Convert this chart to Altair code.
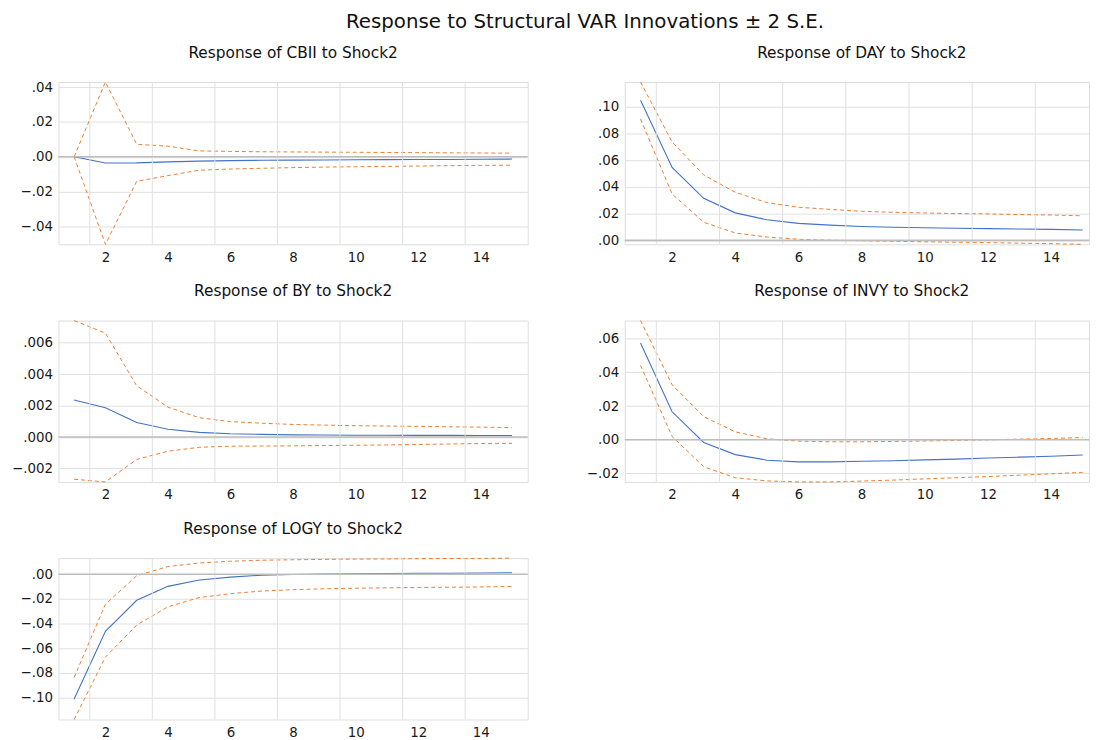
import altair as alt
import pandas as pd

steps = list(range(1, 16))
grid_x = [1.5, 3.5, 5.5, 7.5, 9.5, 11.5, 13.5]
x_labels = [2, 4, 6, 8, 10, 12, 14]

main_title = "Response to Structural VAR Innovations \u00b1 2 S.E."

cbii_resp = [0.0, -0.0036, -0.0035, -0.0029, -0.0025, -0.0022, -0.0020, -0.0019, -0.0018, -0.0017, -0.0016, -0.0015, -0.0015, -0.0014, -0.0013]
cbii_up = [0.0, 0.0430, 0.0072, 0.0061, 0.0034, 0.0031, 0.0029, 0.0028, 0.0027, 0.0026, 0.0025, 0.0024, 0.0023, 0.0022, 0.0021]
cbii_lo = [0.0, -0.0503, -0.0141, -0.0108, -0.0077, -0.0070, -0.0066, -0.0062, -0.0059, -0.0057, -0.0055, -0.0053, -0.0051, -0.0049, -0.0048]

day_resp = [0.1050, 0.0546, 0.0315, 0.0206, 0.0154, 0.0127, 0.0114, 0.0104, 0.0098, 0.0094, 0.0091, 0.0088, 0.0085, 0.0082, 0.0077]
day_up = [0.1187, 0.0737, 0.0490, 0.0360, 0.0283, 0.0248, 0.0232, 0.0218, 0.0210, 0.0205, 0.0201, 0.0198, 0.0193, 0.0190, 0.0184]
day_lo = [0.0910, 0.0347, 0.0136, 0.0055, 0.0025, 0.0008, 0.0001, -0.0003, -0.0007, -0.0011, -0.0014, -0.0017, -0.0021, -0.0025, -0.0030]

by_resp = [0.00236, 0.00186, 0.00092, 0.00050, 0.00030, 0.00021, 0.00017, 0.00014, 0.00013, 0.00012, 0.00012, 0.00011, 0.00011, 0.00010, 0.00010]
by_up = [0.00740, 0.00660, 0.00326, 0.00190, 0.00123, 0.00098, 0.00088, 0.00080, 0.00076, 0.00072, 0.00070, 0.00068, 0.00065, 0.00063, 0.00060]
by_lo = [-0.00268, -0.00285, -0.00142, -0.00090, -0.00065, -0.00058, -0.00057, -0.00056, -0.00054, -0.00052, -0.00050, -0.00047, -0.00044, -0.00041, -0.00040]

invy_resp = [0.0574, 0.0166, -0.0016, -0.0088, -0.0121, -0.0131, -0.0131, -0.0127, -0.0124, -0.0119, -0.0115, -0.0108, -0.0103, -0.0098, -0.0090]
invy_up = [0.0707, 0.0326, 0.0137, 0.0047, 0.0006, -0.0008, -0.0012, -0.0012, -0.0010, -0.0007, -0.0004, 0.0000, 0.0004, 0.0008, 0.0013]
invy_lo = [0.0441, 0.0020, -0.0160, -0.0225, -0.0244, -0.0250, -0.0250, -0.0245, -0.0239, -0.0232, -0.0225, -0.0218, -0.0210, -0.0202, -0.0193]

logy_resp = [-0.1013, -0.0464, -0.0212, -0.0099, -0.0048, -0.0024, -0.0008, -0.0003, 0.0000, 0.0003, 0.0005, 0.0007, 0.0008, 0.0009, 0.0012]
logy_up = [-0.0839, -0.0244, -0.0013, 0.0062, 0.0091, 0.0105, 0.0113, 0.0117, 0.0120, 0.0122, 0.0124, 0.0126, 0.0127, 0.0128, 0.0130]
logy_lo = [-0.1180, -0.0673, -0.0413, -0.0265, -0.0190, -0.0158, -0.0137, -0.0126, -0.0119, -0.0114, -0.0111, -0.0108, -0.0106, -0.0104, -0.0100]

cbii_ticks = [-0.04, -0.02, 0.0, 0.02, 0.04]
day_ticks = [0.0, 0.02, 0.04, 0.06, 0.08, 0.10]
by_ticks = [-0.002, 0.0, 0.002, 0.004, 0.006]
invy_ticks = [-0.02, 0.0, 0.02, 0.04, 0.06]
logy_ticks = [-0.10, -0.08, -0.06, -0.04, -0.02, 0.0]

FONT = "DejaVu Sans"
BLUE = "#4472C4"
ORANGE = "#ED7D31"
GRID = "#E0E0E0"
ZERO = "#BDBDBD"


def panel(var, resp, up, lo, ticks, decimals, width, height, xmax, title_dx=0):
    df = pd.DataFrame({
        "step": steps * 3,
        "value": resp + up + lo,
        "series": ["resp"] * len(steps) + ["upper"] * len(steps) + ["lower"] * len(steps),
    })
    all_vals = resp + up + lo + [0.0]
    yscale = alt.Scale(domain=[min(all_vals), max(all_vals)], nice=False, zero=False)
    xscale = alt.Scale(domain=[0.5, xmax], nice=False, zero=False)
    xaxis = alt.Axis(values=x_labels, grid=False, ticks=False, domain=False,
                     title=None, format="d", labelPadding=6,
                     minExtent=21, maxExtent=21, labelFontSize=13.5,
                     labelFont=FONT, labelColor="#1a1a1a")
    yaxis = alt.Axis(values=ticks, grid=True, gridColor=GRID, gridWidth=1,
                     ticks=False, domain=False, title=None,
                     labelExpr=f"replace(format(datum.value, '.{decimals}f'), '0.', '.')",
                     labelPadding=6, minExtent=50, maxExtent=50,
                     labelFontSize=13.5, labelFont=FONT, labelColor="#1a1a1a")
    xenc = alt.X("step:Q", scale=xscale, axis=xaxis)
    yenc = alt.Y("value:Q", scale=yscale, axis=yaxis)
    bands = alt.Chart(df).transform_filter(alt.datum.series != "resp").mark_line(
        color=ORANGE, strokeWidth=1, strokeDash=[4, 3]).encode(
        x=xenc, y=yenc, detail="series:N")
    line = alt.Chart(df).transform_filter(alt.datum.series == "resp").mark_line(
        color=BLUE, strokeWidth=1.1).encode(x=xenc, y=yenc)
    grid = alt.Chart(pd.DataFrame({"g": grid_x})).mark_rule(color=GRID, strokeWidth=1).encode(
        x=alt.X("g:Q", scale=xscale, axis=xaxis))
    zero = alt.Chart(pd.DataFrame({"z": [0.0]})).mark_rule(color=ZERO, strokeWidth=1.6).encode(
        y=alt.Y("z:Q", scale=yscale, axis=yaxis))
    return alt.layer(bands, line, grid, zero).properties(
        width=width, height=height,
        title=alt.TitleParams(f"Response of {var} to Shock2", font=FONT, fontSize=15.5,
                              fontWeight="normal", color="#111111", anchor="middle",
                              frame="group", offset=19, dx=title_dx))


LW, RW = 474, 469
p1 = panel("CBII", cbii_resp, cbii_up, cbii_lo, cbii_ticks, 2, LW, 164, 15.5)
p2 = panel("DAY", day_resp, day_up, day_lo, day_ticks, 2, RW, 164, 15.2, 5)
p3 = panel("BY", by_resp, by_up, by_lo, by_ticks, 3, LW, 163, 15.5)
p4 = panel("INVY", invy_resp, invy_up, invy_lo, invy_ticks, 2, RW, 163, 15.2, 5)
p5 = panel("LOGY", logy_resp, logy_up, logy_lo, logy_ticks, 2, LW, 163, 15.5)

row1 = alt.hconcat(p1, p2, spacing=45)
row2 = alt.hconcat(p3, p4, spacing=45)

chart = alt.vconcat(row1, row2, p5, spacing=18).properties(
    title=alt.TitleParams(main_title, font=FONT, fontSize=20, fontWeight="normal",
                          color="#111111", anchor="middle", offset=11, dx=36, dy=-3),
    padding={"left": 0, "top": 0, "right": 0, "bottom": 0},
).configure_view(strokeWidth=0, stroke="transparent").configure(background="white")

chart.save("out.html", embed_options={"renderer": "svg", "actions": False})
